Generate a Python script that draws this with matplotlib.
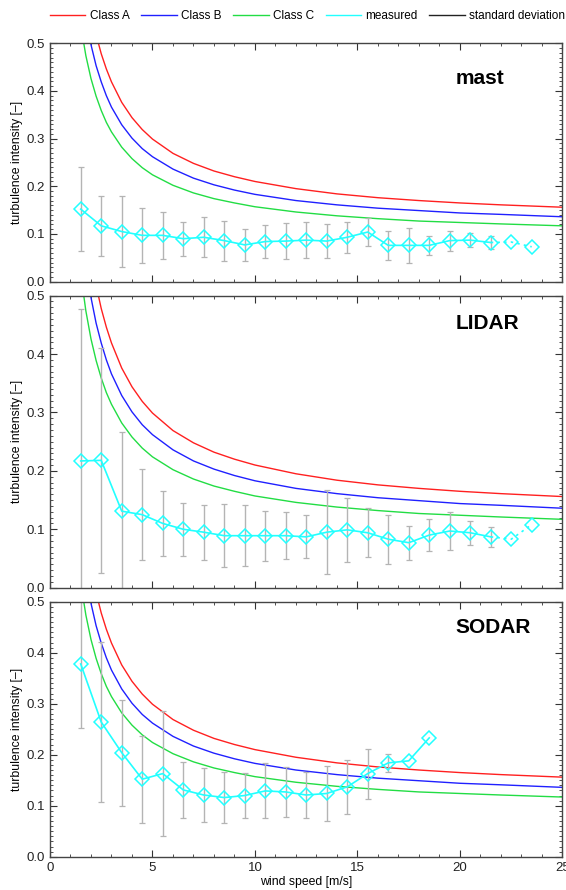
import matplotlib
matplotlib.use("Agg")
import matplotlib.pyplot as plt
from matplotlib.lines import Line2D
from matplotlib.ticker import MultipleLocator, FormatStrFormatter

plt.rcParams['font.family'] = ['Liberation Sans', 'DejaVu Sans']

# IEC reference curves
ws_ref = [1.5, 1.75, 2.0, 2.25, 2.5, 2.75, 3.0, 3.5, 4.0, 4.5, 5.0, 6.0, 7.0, 8.0,
          9.0, 10.0, 12.0, 14.0, 16.0, 18.0, 20.0, 22.0, 25.0]
class_a = [0.717, 0.632, 0.568, 0.518, 0.478, 0.446, 0.419, 0.376, 0.344, 0.319, 0.299, 0.269,
           0.248, 0.232, 0.220, 0.210, 0.195, 0.184, 0.176, 0.170, 0.165, 0.161, 0.156]
class_b = [0.628, 0.553, 0.497, 0.453, 0.419, 0.390, 0.366, 0.329, 0.301, 0.279, 0.262, 0.236,
           0.217, 0.203, 0.192, 0.183, 0.170, 0.161, 0.154, 0.149, 0.144, 0.141, 0.136]
class_c = [0.538, 0.474, 0.426, 0.389, 0.359, 0.334, 0.314, 0.282, 0.258, 0.239, 0.224, 0.202,
           0.186, 0.174, 0.165, 0.157, 0.146, 0.138, 0.132, 0.127, 0.124, 0.121, 0.117]

# wind speed bins
ws_bins = [1.5, 2.5, 3.5, 4.5, 5.5, 6.5, 7.5, 8.5, 9.5, 10.5, 11.5, 12.5, 13.5, 14.5,
           15.5, 16.5, 17.5, 18.5, 19.5, 20.5, 21.5, 22.5, 23.5]

# mast
mast_ti = [0.152, 0.117, 0.105, 0.097, 0.097, 0.090, 0.093, 0.086, 0.077, 0.084, 0.085, 0.087,
           0.085, 0.093, 0.104, 0.076, 0.076, 0.076, 0.086, 0.087, 0.082, 0.083, 0.073]
mast_std = [0.088, 0.063, 0.074, 0.058, 0.050, 0.036, 0.042, 0.042, 0.033, 0.035, 0.037, 0.037,
            0.035, 0.033, 0.029, 0.030, 0.037, 0.020, 0.021, 0.015, 0.013]

# LIDAR
lidar_ti = [0.217, 0.218, 0.131, 0.125, 0.110, 0.100, 0.095, 0.089, 0.089, 0.089, 0.089, 0.087,
            0.095, 0.099, 0.094, 0.083, 0.077, 0.090, 0.097, 0.094, 0.087, 0.083, 0.108]
lidar_std = [0.260, 0.193, 0.135, 0.078, 0.056, 0.045, 0.047, 0.054, 0.052, 0.043, 0.040, 0.037,
             0.072, 0.055, 0.042, 0.042, 0.029, 0.028, 0.032, 0.021, 0.017]

# SODAR
sodar_ti = [0.378, 0.264, 0.204, 0.152, 0.163, 0.131, 0.121, 0.116, 0.120, 0.129, 0.127, 0.121,
            0.124, 0.137, 0.163, 0.184, 0.188, 0.233]
sodar_std = [0.125, 0.157, 0.104, 0.085, 0.123, 0.055, 0.052, 0.050, 0.045, 0.054, 0.049, 0.045,
             0.053, 0.053, 0.049, 0.018]

panels = [
    ("mast", mast_ti, mast_std, True, [0.0883, 0.6836, 0.9055, 0.2678], 0.853),
    ("LIDAR", lidar_ti, lidar_std, True, [0.0883, 0.3397, 0.9055, 0.3281], 0.904),
    ("SODAR", sodar_ti, sodar_std, False, [0.0883, 0.0374, 0.9055, 0.2865], 0.898),
]

fig = plt.figure(figsize=(5.66, 8.9), dpi=100)

for name, ti, std, dotted_tail, rect, ty in panels:
    ax = fig.add_axes(rect)
    ax.plot(ws_ref, class_a, color='#ff2020', lw=1.0)
    ax.plot(ws_ref, class_b, color='#2020ff', lw=1.0)
    ax.plot(ws_ref, class_c, color='#22dd44', lw=1.0)

    n_err = len(std)
    ax.errorbar(ws_bins[:n_err], ti[:n_err], yerr=std, fmt='none', ecolor='#b4b4b4',
                elinewidth=1.0, capsize=2.5, capthick=0.9)

    n = len(ti)
    if dotted_tail:
        ax.plot(ws_bins[:n_err], ti[:n_err], color='#22ffff', lw=1.2)
        ax.plot(ws_bins[n_err - 1:n], ti[n_err - 1:n], color='#22ffff', lw=1.2, ls=(0, (1.5, 2.5)))
    else:
        ax.plot(ws_bins[:n], ti[:n], color='#22ffff', lw=1.2)
    ax.plot(ws_bins[:n], ti[:n], ls='none', marker='D', ms=7, mfc='none', mec='#22ffff', mew=1.1)

    ax.text(0.791, ty, name, transform=ax.transAxes, fontsize=15, fontweight='bold',
            ha='left', va='center')

    ax.set_xlim(0, 25)
    ax.set_ylim(0, 0.5)
    ax.xaxis.set_major_locator(MultipleLocator(5))
    ax.xaxis.set_minor_locator(MultipleLocator(1))
    ax.yaxis.set_major_locator(MultipleLocator(0.1))
    ax.yaxis.set_minor_locator(MultipleLocator(0.01))
    ax.yaxis.set_major_formatter(FormatStrFormatter('%.1f'))
    ax.tick_params(which='both', direction='in', top=True, right=True, labelsize=9.5,
                   colors='#333333', labelcolor='#222222')
    ax.tick_params(which='major', length=5, width=0.8)
    ax.tick_params(which='minor', length=2.5, width=0.6)
    for s in ax.spines.values():
        s.set_color('#444444')
        s.set_linewidth(1.0)
    ax.set_ylabel('turbulence intensity [–]', fontsize=8.8, labelpad=2.5)
    if name != "SODAR":
        ax.tick_params(labelbottom=False)
    else:
        ax.set_xlabel('wind speed [m/s]', fontsize=8.8, labelpad=2)

handles = [Line2D([], [], color='#ff2020', lw=1.0),
           Line2D([], [], color='#2020ff', lw=1.0),
           Line2D([], [], color='#22dd44', lw=1.0),
           Line2D([], [], color='#22ffff', lw=1.0),
           Line2D([], [], color='#222222', lw=1.0)]
labels = ['Class A', 'Class B', 'Class C', 'measured', 'standard deviation']
fig.legend(handles, labels, loc='center left', bbox_to_anchor=(50 / 566, 1 - 16 / 890), ncol=5,
           frameon=False, fontsize=8.5, handlelength=3.0, handletextpad=0.35,
           columnspacing=1.0, borderaxespad=0, borderpad=0)

fig.savefig('out.png', dpi=100)
